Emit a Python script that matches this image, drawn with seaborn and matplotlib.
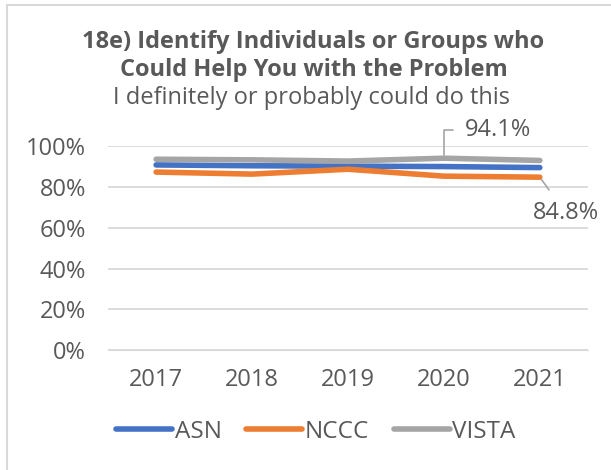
import pandas as pd
import seaborn as sns
import matplotlib.pyplot as plt
from matplotlib.ticker import PercentFormatter

# values
years = ['2017', '2018', '2019', '2020', '2021']
asn = [0.908, 0.904, 0.902, 0.900, 0.895]
nccc = [0.873, 0.863, 0.887, 0.853, 0.848]
vista = [0.936, 0.933, 0.927, 0.941, 0.930]

colors = {'ASN': '#4472C4', 'NCCC': '#ED7D31', 'VISTA': '#A5A5A5'}
text_color = '#595959'

df = pd.DataFrame({'Year': years * 3,
                   'Value': asn + nccc + vista,
                   'Group': ['ASN'] * 5 + ['NCCC'] * 5 + ['VISTA'] * 5})

sns.set_style('white')
plt.rcParams['font.family'] = ['Open Sans', 'DejaVu Sans']

fig = plt.figure(figsize=(6.11, 4.70), dpi=100)
ax = fig.add_axes([0.177, 0.255, 0.785, 0.434])

sns.lineplot(data=df, x='Year', y='Value', hue='Group', palette=colors,
             linewidth=4, ax=ax, sort=False, legend=False,
             solid_capstyle='round')

ax.set_ylim(0, 1)
ax.set_xlim(-0.5, 4.5)
ax.set_yticks([0, 0.2, 0.4, 0.6, 0.8, 1.0])
ax.yaxis.set_major_formatter(PercentFormatter(1.0, decimals=0))
ax.grid(axis='y', color='#D9D9D9', linewidth=1.3)
ax.set_axisbelow(True)
for s in ['top', 'right', 'left']:
    ax.spines[s].set_visible(False)
ax.spines['bottom'].set_color('#D9D9D9')
ax.tick_params(axis='both', length=0, labelsize=17, colors=text_color)
ax.tick_params(axis='y', pad=16)
ax.tick_params(axis='x', pad=13)
ax.set_xlabel('')
ax.set_ylabel('')

# data labels with leader lines
ax.annotate(f'{vista[3]:.1%}', xy=(3, vista[3]), xytext=(3.22, 1.078),
            ha='left', va='center', fontsize=17, color=text_color,
            annotation_clip=False,
            arrowprops=dict(arrowstyle='-', color='#A6A6A6', lw=1.2,
                            shrinkA=6, shrinkB=2,
                            connectionstyle='angle,angleA=0,angleB=90,rad=0'))
ax.annotate(f'{nccc[4]:.1%}', xy=(4, nccc[4]), xytext=(4.27, 0.672),
            ha='center', va='center', fontsize=17, color=text_color,
            annotation_clip=False,
            arrowprops=dict(arrowstyle='-', color='#A6A6A6', lw=1.2,
                            shrinkA=7, shrinkB=2))

fig.text(0.513, 0.911, '18e) Identify Individuals or Groups who',
         ha='center', va='center', fontsize=17, fontweight='bold', color=text_color)
fig.text(0.513, 0.851, 'Could Help You with the Problem',
         ha='center', va='center', fontsize=17, fontweight='bold', color=text_color)
fig.text(0.51, 0.791, 'I definitely or probably could do this',
         ha='center', va='center', fontsize=17, color=text_color)

handles = [plt.Line2D([0], [0], color=c, lw=4, solid_capstyle='round') for c in colors.values()]
leg = fig.legend(handles, list(colors.keys()), loc='center', bbox_to_anchor=(0.517, 0.081),
                 ncol=3, frameon=False, fontsize=17.5, handlelength=2.3,
                 handletextpad=0.12, columnspacing=1.0)
for t in leg.get_texts():
    t.set_color(text_color)

# chart-area border (top and left edges visible in the reference)
fig.add_artist(plt.Line2D([0.011, 1.0], [0.989, 0.989], transform=fig.transFigure,
                          color='#D9D9D9', lw=1.5))
fig.add_artist(plt.Line2D([0.011, 0.011], [0.0, 0.989], transform=fig.transFigure,
                          color='#D9D9D9', lw=1.5))

fig.savefig('out.png', dpi=100, facecolor='white')
